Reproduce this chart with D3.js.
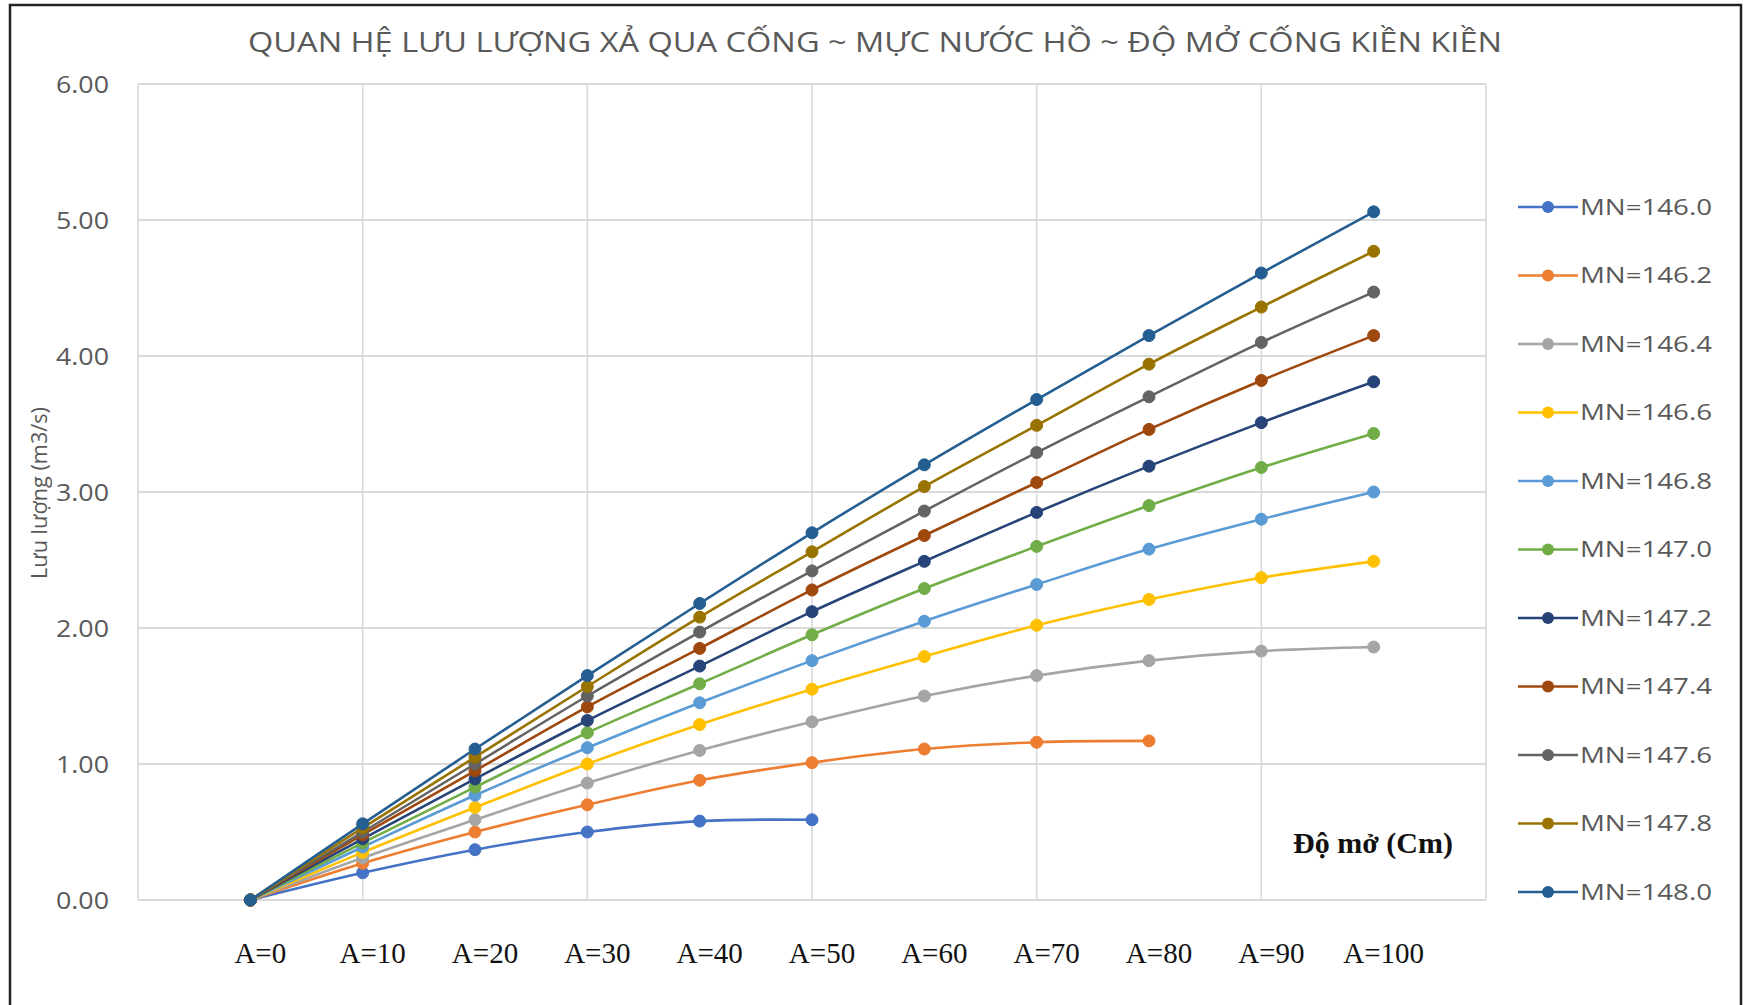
<!DOCTYPE html>
<html>
<head>
<meta charset="utf-8">
<script src="https://cdn.jsdelivr.net/npm/d3@7"></script>
<style>
  html, body { margin: 0; padding: 0; background: #fff; }
  svg { display: block; }
</style>
</head>
<body>
<svg id="chart" width="1751" height="1005"></svg>
<script>
// ---------------- DATA ----------------
const openings = [0, 10, 20, 30, 40, 50, 60, 70, 80, 90, 100];
const openingLabels = ["A=0", "A=10", "A=20", "A=30", "A=40", "A=50", "A=60", "A=70", "A=80", "A=90", "A=100"];
const seriesNames = ["MN=146.0", "MN=146.2", "MN=146.4", "MN=146.6", "MN=146.8", "MN=147.0",
                     "MN=147.2", "MN=147.4", "MN=147.6", "MN=147.8", "MN=148.0"];
const mn146_0 = [0, 0.20, 0.37, 0.50, 0.58, 0.59];
const mn146_2 = [0, 0.27, 0.50, 0.70, 0.88, 1.01, 1.11, 1.16, 1.17];
const mn146_4 = [0, 0.31, 0.59, 0.86, 1.10, 1.31, 1.50, 1.65, 1.76, 1.83, 1.86];
const mn146_6 = [0, 0.35, 0.68, 1.00, 1.29, 1.55, 1.79, 2.02, 2.21, 2.37, 2.49];
const mn146_8 = [0, 0.39, 0.77, 1.12, 1.45, 1.76, 2.05, 2.32, 2.58, 2.80, 3.00];
const mn147_0 = [0, 0.42, 0.83, 1.23, 1.59, 1.95, 2.29, 2.60, 2.90, 3.18, 3.43];
const mn147_2 = [0, 0.45, 0.89, 1.32, 1.72, 2.12, 2.49, 2.85, 3.19, 3.51, 3.81];
const mn147_4 = [0, 0.48, 0.95, 1.42, 1.85, 2.28, 2.68, 3.07, 3.46, 3.82, 4.15];
const mn147_6 = [0, 0.50, 1.00, 1.50, 1.97, 2.42, 2.86, 3.29, 3.70, 4.10, 4.47];
const mn147_8 = [0, 0.53, 1.05, 1.57, 2.08, 2.56, 3.04, 3.49, 3.94, 4.36, 4.77];
const mn148_0 = [0, 0.56, 1.11, 1.65, 2.18, 2.70, 3.20, 3.68, 4.15, 4.61, 5.06];
const seriesValues = [mn146_0, mn146_2, mn146_4, mn146_6, mn146_8, mn147_0,
                      mn147_2, mn147_4, mn147_6, mn147_8, mn148_0];
const seriesColors = ["#4472C4", "#ED7D31", "#A5A5A5", "#FFC000", "#5B9BD5", "#70AD47",
                      "#264478", "#9E480E", "#636363", "#997300", "#255E91"];
const yTicks = [0, 1, 2, 3, 4, 5, 6];
const xGridTicks = [-10, 10, 30, 50, 70, 90, 110];
const titleText = "QUAN HỆ LƯU LƯỢNG XẢ QUA CỐNG ~ MỰC NƯỚC HỒ ~ ĐỘ MỞ CỐNG KIỀN KIỀN";
const yTitleText = "Lưu lượng (m3/s)";
const xTitleText = "Độ mở (Cm)";

// ---------------- LAYOUT ----------------
const svg = d3.select("#chart");
const plot = { left: 138, right: 1486, top: 84, bottom: 900 };
const x = d3.scaleLinear().domain([-10, 110]).range([plot.left, plot.right]);
const y = d3.scaleLinear().domain([0, 6]).range([plot.bottom, plot.top]);
const grey = "#595959";

function fit(sel, w) {
  sel.each(function () {
    const l = this.getComputedTextLength();
    if (Math.abs(l - w) > 1) {
      this.setAttribute("textLength", w);
      this.setAttribute("lengthAdjust", "spacingAndGlyphs");
    }
  });
}

svg.append("rect").attr("width", 1751).attr("height", 1005).attr("fill", "#fff");

// frame (left, top, right)
svg.append("path")
  .attr("d", "M10,1005 L10,5 L1741,5 L1741,1005")
  .attr("fill", "none").attr("stroke", "#222").attr("stroke-width", 2.5);

// gridlines
const grid = svg.append("g");
grid.selectAll("line.h").data(yTicks).join("line")
  .attr("x1", plot.left).attr("x2", plot.right)
  .attr("y1", d => y(d)).attr("y2", d => y(d))
  .attr("stroke", "#d9d9d9").attr("stroke-width", 2);
grid.selectAll("line.v").data(xGridTicks).join("line")
  .attr("y1", plot.top).attr("y2", plot.bottom)
  .attr("x1", d => x(d)).attr("x2", d => x(d))
  .attr("stroke", "#d9d9d9").attr("stroke-width", 1.6);

// y tick labels
svg.append("g").selectAll("text").data(yTicks).join("text")
  .attr("x", 109).attr("y", d => y(d)).attr("dy", "0.36em")
  .attr("text-anchor", "end")
  .attr("font-family", "Open Sans").attr("font-size", 24).attr("fill", grey)
  .text(d => d3.format(".2f")(d))
  .call(fit, 53);

// y axis title
svg.append("text")
  .attr("transform", "translate(47,493) rotate(-90)")
  .attr("text-anchor", "middle")
  .attr("font-family", "Open Sans").attr("font-size", 21).attr("fill", grey)
  .text(yTitleText)
  .call(fit, 172);

// title
svg.append("text")
  .attr("x", 875).attr("y", 52)
  .attr("text-anchor", "middle")
  .attr("font-family", "Open Sans").attr("font-size", 27).attr("fill", grey)
  .text(titleText)
  .call(fit, 1254);

// x category labels (Times)
svg.append("g").selectAll("text").data(openings).join("text")
  .attr("x", d => x(d) + 10).attr("y", 963)
  .attr("text-anchor", "middle")
  .attr("font-family", "Liberation Serif").attr("font-size", 29).attr("fill", "#111")
  .text((d, i) => openingLabels[i]);

// x title
svg.append("text")
  .attr("x", 1373).attr("y", 853)
  .attr("text-anchor", "middle")
  .attr("font-family", "Liberation Serif").attr("font-size", 30)
  .attr("font-weight", "bold").attr("fill", "#111")
  .text(xTitleText);

// series
const line = d3.line().x(d => x(d[0])).y(d => y(d[1])).curve(d3.curveCatmullRom);
const series = seriesValues.map((vals, i) => ({
  name: seriesNames[i], color: seriesColors[i],
  points: vals.map((v, j) => [openings[j], v])
}));
const sg = svg.append("g").selectAll("g").data(series).join("g");
sg.append("path")
  .attr("d", d => line(d.points))
  .attr("fill", "none").attr("stroke", d => d.color).attr("stroke-width", 2.6);
sg.selectAll("circle").data(d => d.points.map(p => ({ p, c: d.color }))).join("circle")
  .attr("cx", d => x(d.p[0])).attr("cy", d => y(d.p[1])).attr("r", 6)
  .attr("fill", d => d.c).attr("stroke", d => d.c).attr("stroke-width", 1);

// legend
const legY = d3.scalePoint().domain(seriesNames).range([207, 892]);
const lg = svg.append("g").selectAll("g").data(series).join("g")
  .attr("transform", d => `translate(0,${legY(d.name)})`);
lg.append("line").attr("x1", 1518).attr("x2", 1578).attr("y1", 0).attr("y2", 0)
  .attr("stroke", d => d.color).attr("stroke-width", 2.6);
lg.append("circle").attr("cx", 1548).attr("cy", 0).attr("r", 6).attr("fill", d => d.color);
lg.append("text").attr("x", 1580).attr("y", 0).attr("dy", "0.36em")
  .attr("font-family", "Open Sans").attr("font-size", 22).attr("fill", grey)
  .text(d => d.name)
  .call(fit, 132);
</script>
</body>
</html>
